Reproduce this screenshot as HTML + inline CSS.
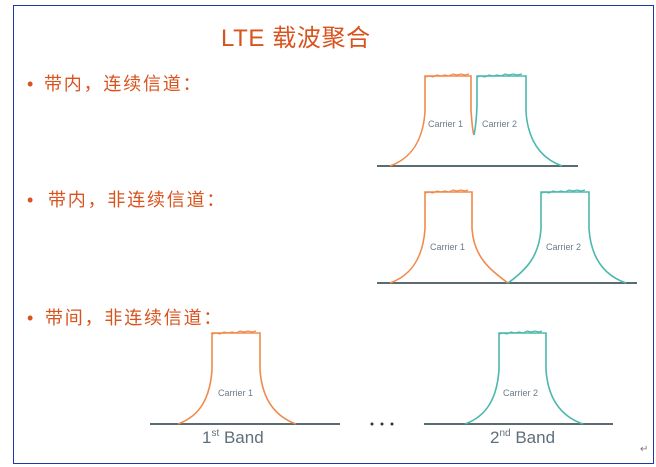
<!DOCTYPE html>
<html><head><meta charset="utf-8"><style>
body{margin:0;background:#fff;width:656px;height:467px;overflow:hidden}
svg{display:block}
.cn{font-family:"Liberation Sans","Noto Sans CJK SC",sans-serif;fill:#d9531e}
.c{font-family:"Liberation Sans",sans-serif;font-size:9px;fill:#6b7b88}
.b{font-family:"Liberation Sans",sans-serif;font-size:17px;fill:#5f6f7a}
</style></head><body>
<svg width="656" height="467" viewBox="0 0 656 467" xmlns="http://www.w3.org/2000/svg">
<rect x="13.5" y="5.5" width="640" height="458" fill="none" stroke="#1a3aa8" stroke-width="1"/>
<text class="cn" x="221" y="46" font-size="24" letter-spacing="0.6">LTE 载波聚合</text>
<g class="cn" font-size="18" letter-spacing="1.8">
<text x="27" y="90">•</text><text x="44" y="90">带内，连续信道：</text>
<text x="27" y="206">•</text><text x="48" y="206">带内，非连续信道：</text>
<text x="27" y="324">•</text><text x="45" y="324">带间，非连续信道：</text>
</g>
<g stroke="#5b6b72" stroke-width="2">
<line x1="377" y1="166" x2="578" y2="166"/>
<line x1="377" y1="283" x2="637" y2="283"/>
<line x1="150" y1="424" x2="340" y2="424"/>
<line x1="424" y1="424" x2="613" y2="424"/>
</g>
<g fill="none" stroke-width="1.6">
<path stroke="#f08a4b" d="M390 166 C412 158 423 140 425 112 L425 76 L471 76 L471 110 C472 125 473 133 474 135"/>
<path stroke="#4bb8ad" d="M474 135 C476 125 477 110 477 100 L477 76 L526 76 L526 112 C528 140 540 158 562 166"/>
<path stroke="#f08a4b" d="M390 283 C412 275 423 257 425 229 L425 192 L472 192 L472 229 C474 257 490 270 508 283"/>
<path stroke="#4bb8ad" d="M508 283 C526 270 539 257 541 229 L541 192 L589 192 L589 229 C591 257 603 275 626 283"/>
<path stroke="#f08a4b" d="M178 424 C200 416 210 398 212 370 L212 333 L260 333 L260 370 C262 398 274 416 296 424"/>
<path stroke="#4bb8ad" d="M465 424 C487 416 497 398 499 370 L499 333 L546 333 L546 370 C548 398 560 416 583 424"/>
</g>
<g stroke-width="1.2" fill="none">
<path stroke="#f08a4b" d="M425 77 l4 -1 l4 1 l4 -2 l4 1 l4 -1 l4 1 l4 -2 l4 1 l4 -1 l4 1 l4 -1"/>
<path stroke="#4bb8ad" d="M477 77 l4 -1 l4 1 l4 -2 l4 1 l4 -1 l4 1 l4 -2 l4 1 l4 -1 l4 1 l5 -1"/>
<path stroke="#f08a4b" d="M425 193 l4 -1 l4 1 l4 -2 l4 1 l4 -1 l4 1 l4 -2 l4 1 l4 -1 l4 1 l3 -1"/>
<path stroke="#4bb8ad" d="M541 193 l4 -1 l4 1 l4 -2 l4 1 l4 -1 l4 1 l4 -2 l4 1 l4 -1 l4 1 l4 -1"/>
<path stroke="#f08a4b" d="M212 334 l4 -1 l4 1 l4 -2 l4 1 l4 -1 l4 1 l4 -2 l4 1 l4 -1 l4 1 l4 -1"/>
<path stroke="#4bb8ad" d="M499 334 l4 -1 l4 1 l4 -2 l4 1 l4 -1 l4 1 l4 -2 l4 1 l4 -1 l4 1 l3 -1"/>
</g>
<text class="c" x="428" y="127">Carrier 1</text>
<text class="c" x="482" y="127">Carrier 2</text>
<text class="c" x="430" y="250">Carrier 1</text>
<text class="c" x="546" y="250">Carrier 2</text>
<text class="c" x="218" y="396">Carrier 1</text>
<text class="c" x="503" y="396">Carrier 2</text>
<text class="b" x="202" y="443">1<tspan font-size="10" dy="-7">st</tspan><tspan dy="7"> Band</tspan></text>
<text class="b" x="490" y="443">2<tspan font-size="10" dy="-7">nd</tspan><tspan dy="7"> Band</tspan></text>
<g fill="#333"><circle cx="372" cy="424" r="1.5"/><circle cx="382" cy="424" r="1.5"/><circle cx="392" cy="424" r="1.5"/></g>
<text x="640" y="452" font-size="10" fill="#777" font-family="DejaVu Sans,sans-serif">↵</text>
</svg>
</body></html>
